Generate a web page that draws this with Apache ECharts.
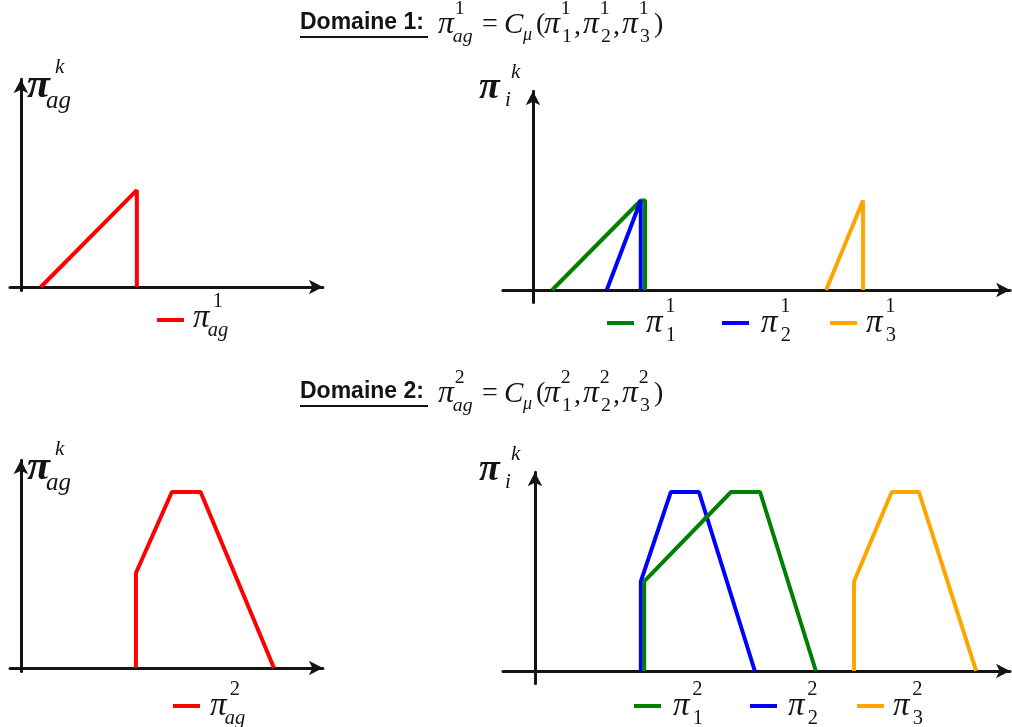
<!DOCTYPE html>
<html>
<head>
<meta charset="utf-8">
<script src="https://cdn.jsdelivr.net/npm/echarts@6/dist/echarts.min.js"></script>
<style>
html,body{margin:0;padding:0;background:#fff;}
#main{width:1012px;height:727px;}
</style>
</head>
<body>
<div id="main"></div>
<script>
// ---- Data (x: position on the universe axis, y: membership degree) ----
// Domaine 1
const d1_ag  = [[0.66,0],[3.84,0.55],[3.84,0]];
const d1_pi1 = [[0.40,0],[2.25,0.5],[2.34,0.5],[2.34,0]];
const d1_pi2 = [[1.54,0],[2.25,0.5],[2.25,0]];
const d1_pi3 = [[6.12,0],[6.89,0.5],[6.89,0]];
// Domaine 2
const d2_ag  = [[3.81,0],[3.81,0.54],[5.00,1.0],[5.95,1.0],[8.38,0]];
const d2_pi1 = [[2.29,0],[2.29,0.5],[4.11,1.0],[4.72,1.0],[5.89,0]];
const d2_pi2 = [[2.22,0],[2.22,0.5],[2.85,1.0],[3.44,1.0],[4.61,0]];
const d2_pi3 = [[6.69,0],[6.69,0.5],[7.48,1.0],[8.05,1.0],[9.25,0]];

const titles = ['Domaine 1:', 'Domaine 2:'];
const domainIdx = ['1', '2'];
const seriesNames = ['π_ag', 'π_1', 'π_2', 'π_3'];

const RED = '#ff0000', GREEN = '#008000', BLUE = '#0000ff', ORANGE = '#ffa500';
const INK = '#141414';

const chart = echarts.init(document.getElementById('main'), null, {renderer: 'canvas'});

function mkX(gi, min, max) {
  return {
    type: 'value', gridIndex: gi, min: min, max: max,
    axisLine: {show: true, onZero: true, symbol: ['none', 'arrow'], symbolSize: [11, 14],
      lineStyle: {color: INK, width: 3}},
    axisTick: {show: false}, axisLabel: {show: false}, splitLine: {show: false}
  };
}
function mkY(gi, min, max) { return mkX(gi, min, max); }

function ln(name, data, color, xi, z) {
  return {
    name: name, type: 'line', data: data, xAxisIndex: xi, yAxisIndex: xi,
    showSymbol: false, symbol: 'none', z: z || 2, animation: false,
    lineStyle: {color: color, width: 4, join: 'bevel', cap: 'butt'},
    itemStyle: {color: color}
  };
}

function T(x, y, s, size, o) {
  o = o || {};
  return {
    type: 'text', x: x, y: y, silent: true, z: 100,
    style: {
      text: s, fontSize: size,
      fontFamily: o.ff || 'Liberation Serif',
      fontStyle: o.it === false ? 'normal' : 'italic',
      fontWeight: o.bold ? 'bold' : 'normal',
      fill: INK, align: 'left', verticalAlign: 'middle'
    }
  };
}
// π with stacked superscript / subscript
function PI(x, y, size, sup, sub, o) {
  o = o || {};
  const s = size * (o.scale || 0.62);
  const out = [T(x, y, 'π', size, {bold: o.bold})];
  if (sup) out.push(T(x + size * (o.supDx || 0.6), y - size * 0.5, sup, s, {it: o.supIt === true}));
  if (sub) out.push(T(x + size * (o.subDx || 0.55), y + size * 0.38, sub, s, {it: o.subIt === true}));
  return out;
}

function titleBlock(dy, k) {
  const y = 25 + dy;
  let g = [];
  g.push(T(300, y - 2, titles[k], 23, {ff: 'Liberation Sans', it: false, bold: true}));
  g.push({type: 'line', silent: true, shape: {x1: 300, y1: y + 12, x2: 428, y2: y + 12},
    style: {stroke: INK, lineWidth: 2}});
  g = g.concat(PI(438, y, 32, domainIdx[k], 'ag', {subIt: true, supDx: 0.52, subDx: 0.46}));
  g.push(T(482, y, '=', 28, {it: false}));
  g.push(T(504, y, 'C', 29));
  g.push(T(523, y + 10, 'μ', 18));
  g.push(T(536, y, '(', 28, {it: false}));
  g = g.concat(PI(544, y, 32, domainIdx[k], '1', {supDx: 0.52, subDx: 0.56}));
  g.push(T(574, y + 2, ',', 28, {it: false}));
  g = g.concat(PI(583, y, 32, domainIdx[k], '2', {supDx: 0.52, subDx: 0.56}));
  g.push(T(613, y + 2, ',', 28, {it: false}));
  g = g.concat(PI(622, y, 32, domainIdx[k], '3', {supDx: 0.52, subDx: 0.56}));
  g.push(T(654, y, ')', 28, {it: false}));
  return g;
}

function yLabelAg(x, y) {
  return [T(x, y, 'π', 42, {bold: true}), T(x + 28, y - 19, 'k', 21), T(x + 19, y + 15, 'ag', 25)];
}
function yLabelI(x, y) {
  return [T(x, y, 'π', 38, {bold: true}), T(x + 32, y - 16, 'k', 21), T(x + 26, y + 12, 'i', 21)];
}

let graphics = [];
graphics = graphics.concat(titleBlock(0, 0), titleBlock(369, 1));
graphics = graphics.concat(yLabelAg(27, 86), yLabelAg(27, 468));
graphics = graphics.concat(yLabelI(479, 88), yLabelI(479, 470));
// legend labels
graphics = graphics.concat(PI(193, 318, 33, '1', 'ag', {subIt: true, supDx: 0.6, subDx: 0.45}));
graphics = graphics.concat(PI(646, 323, 33, '1', '1', {supDx: 0.58, subDx: 0.6}));
graphics = graphics.concat(PI(761, 323, 33, '1', '2', {supDx: 0.58, subDx: 0.6}));
graphics = graphics.concat(PI(866, 323, 33, '1', '3', {supDx: 0.58, subDx: 0.6}));
graphics = graphics.concat(PI(210, 706, 33, '2', 'ag', {subIt: true, supDx: 0.6, subDx: 0.45}));
graphics = graphics.concat(PI(673, 706, 33, '2', '1', {supDx: 0.58, subDx: 0.6}));
graphics = graphics.concat(PI(788, 706, 33, '2', '2', {supDx: 0.58, subDx: 0.6}));
graphics = graphics.concat(PI(893, 706, 33, '2', '3', {supDx: 0.58, subDx: 0.6}));

function lg(name, left, top) {
  return {
    data: [name], left: left, top: top, padding: 0, itemGap: 0,
    itemWidth: 27, itemHeight: 4, icon: 'rect', selectedMode: false,
    formatter: function () { return ''; },
    textStyle: {fontSize: 4, lineHeight: 4}
  };
}

const option = {
  backgroundColor: '#ffffff',
  animation: false,
  grid: [
    {left: 10, top: 79.3, width: 312.9, height: 211.2},
    {left: 502.8, top: 91.3, width: 507.3, height: 211.2},
    {left: 10, top: 460.3, width: 312.9, height: 211.2},
    {left: 503, top: 472.3, width: 507, height: 211.2}
  ],
  xAxis: [mkX(0, -0.36, 10.0), mkX(1, -0.63, 9.96), mkX(2, -0.36, 10.0), mkX(3, -0.67, 9.96)],
  yAxis: [mkY(0, -0.02, 1.18), mkY(1, -0.07, 1.11), mkY(2, -0.02, 1.18), mkY(3, -0.07, 1.11)],
  legend: [
    lg('D1 ' + seriesNames[0], 157, 318),
    lg('D1 ' + seriesNames[1], 607, 321),
    lg('D1 ' + seriesNames[2], 722, 321),
    lg('D1 ' + seriesNames[3], 830, 321),
    lg('D2 ' + seriesNames[0], 173, 704),
    lg('D2 ' + seriesNames[1], 634, 704),
    lg('D2 ' + seriesNames[2], 750, 704),
    lg('D2 ' + seriesNames[3], 857, 704)
  ],
  series: [
    ln('D1 ' + seriesNames[0], d1_ag, RED, 0),
    ln('D1 ' + seriesNames[1], d1_pi1, GREEN, 1, 2),
    ln('D1 ' + seriesNames[2], d1_pi2, BLUE, 1, 3),
    ln('D1 ' + seriesNames[3], d1_pi3, ORANGE, 1),
    ln('D2 ' + seriesNames[0], d2_ag, RED, 2),
    ln('D2 ' + seriesNames[1], d2_pi1, GREEN, 3, 3),
    ln('D2 ' + seriesNames[2], d2_pi2, BLUE, 3, 2),
    ln('D2 ' + seriesNames[3], d2_pi3, ORANGE, 3)
  ],
  graphic: graphics
};
chart.setOption(option);
</script>
</body>
</html>
